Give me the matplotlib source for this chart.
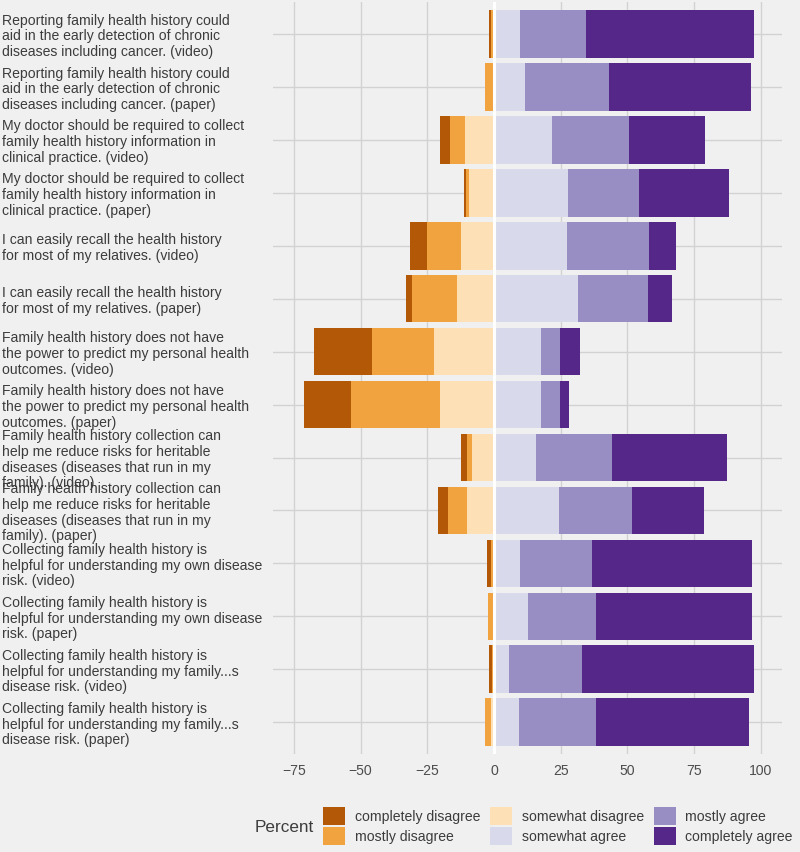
import numpy as np
import matplotlib
matplotlib.use("Agg")
import matplotlib.pyplot as plt
from matplotlib.patches import Patch

# item labels, top to bottom
items = [
    "Reporting family health history could\naid in the early detection of chronic\ndiseases including cancer. (video)",
    "Reporting family health history could\naid in the early detection of chronic\ndiseases including cancer. (paper)",
    "My doctor should be required to collect\nfamily health history information in\nclinical practice. (video)",
    "My doctor should be required to collect\nfamily health history information in\nclinical practice. (paper)",
    "I can easily recall the health history\nfor most of my relatives. (video)",
    "I can easily recall the health history\nfor most of my relatives. (paper)",
    "Family health history does not have\nthe power to predict my personal health\noutcomes. (video)",
    "Family health history does not have\nthe power to predict my personal health\noutcomes. (paper)",
    "Family health history collection can\nhelp me reduce risks for heritable\ndiseases (diseases that run in my\nfamily). (video)",
    "Family health history collection can\nhelp me reduce risks for heritable\ndiseases (diseases that run in my\nfamily). (paper)",
    "Collecting family health history is\nhelpful for understanding my own disease\nrisk. (video)",
    "Collecting family health history is\nhelpful for understanding my own disease\nrisk. (paper)",
    "Collecting family health history is\nhelpful for understanding my family...s\ndisease risk. (video)",
    "Collecting family health history is\nhelpful for understanding my family...s\ndisease risk. (paper)",
]

levels = ["completely disagree", "mostly disagree", "somewhat disagree",
          "somewhat agree", "mostly agree", "completely agree"]
colors = ["#b35806", "#f1a340", "#fee0b6", "#d8daeb", "#998ec3", "#542788"]

# percentages per item (same order as items)
completely_disagree = [1.0, 0.0, 4.1, 0.8, 6.1, 2.1, 21.8, 17.5, 2.1, 3.4, 1.5, 0.0, 1.2, 0.0]
mostly_disagree     = [1.0, 3.0, 5.4, 1.2, 12.9, 16.8, 23.1, 33.5, 2.0, 7.4, 0.6, 1.6, 0.6, 2.3]
somewhat_disagree   = [0.0, 0.4, 10.9, 9.4, 12.3, 14.0, 22.5, 20.1, 8.1, 10.0, 0.5, 0.5, 0.0, 1.0]
somewhat_agree      = [9.6, 11.5, 21.9, 27.6, 27.4, 31.6, 17.8, 17.5, 15.8, 24.4, 9.6, 12.8, 5.5, 9.5]
mostly_agree        = [25.1, 31.6, 28.6, 26.9, 30.6, 26.3, 6.9, 7.4, 28.6, 27.4, 27.3, 25.6, 27.4, 28.9]
completely_agree    = [62.8, 53.1, 28.6, 33.6, 10.3, 8.7, 7.4, 3.4, 42.9, 27.0, 59.9, 58.5, 64.6, 57.2]

xticks = [-75, -50, -25, 0, 25, 50, 75, 100]

plt.rcParams['font.family'] = ['Liberation Sans', 'DejaVu Sans']
bg = "#f0f0f0"
fs = 10.1

fig = plt.figure(figsize=(8, 8.52), dpi=100, facecolor=bg)
ax = fig.add_axes([0.341, 0.115, 0.6365, 0.8825], facecolor=bg)

n = len(items)
y = np.arange(n)[::-1]

neg = [np.array(completely_disagree), np.array(mostly_disagree), np.array(somewhat_disagree)]
pos = [np.array(somewhat_agree), np.array(mostly_agree), np.array(completely_agree)]

# disagree side: stack outward from zero
left = np.zeros(n)
for vals, col in zip(neg[::-1], colors[:3][::-1]):
    ax.barh(y, -vals, left=-left, height=0.9, color=col, linewidth=0, zorder=2)
    left = left + vals
# agree side
left = np.zeros(n)
for vals, col in zip(pos, colors[3:]):
    ax.barh(y, vals, left=left, height=0.9, color=col, linewidth=0, zorder=2)
    left = left + vals

ax.axvline(0, color="white", linewidth=2.2, zorder=3)

ax.set_xlim(-82.9, 108.0)
ax.set_ylim(-0.6, n - 0.4)
ax.set_xticks(xticks)
ax.set_xticklabels([str(t).replace("-", "\u2212") for t in xticks])
ax.set_yticks(y)
ax.set_yticklabels(items, ha="left", fontsize=fs, color="#3c3c3c", linespacing=1.15)
ax.tick_params(axis="y", length=0, pad=271 * 0.72)
ax.tick_params(axis="x", length=0, pad=7, labelsize=fs, labelcolor="#4d4d4d")
ax.grid(True, color="#d2d2d2", linewidth=1.0, zorder=0)
ax.set_axisbelow(True)
for s in ax.spines.values():
    s.set_visible(False)

handles = [Patch(facecolor=c, edgecolor="none", label=l) for c, l in zip(colors, levels)]
fig.legend(handles=handles, ncol=3, loc="center left",
           bbox_to_anchor=(323 / 800, 1 - 826 / 852), frameon=False,
           fontsize=fs, handlelength=1.6, handleheight=1.58, handletextpad=0.65,
           columnspacing=0.72, labelspacing=0.14, borderpad=0, borderaxespad=0,
           labelcolor="#3c3c3c")
fig.text(255 / 800, 1 - 828 / 852, "Percent", fontsize=12.3, color="#3c3c3c",
         va="center", ha="left")

fig.savefig("out.png", dpi=100, facecolor=bg)
